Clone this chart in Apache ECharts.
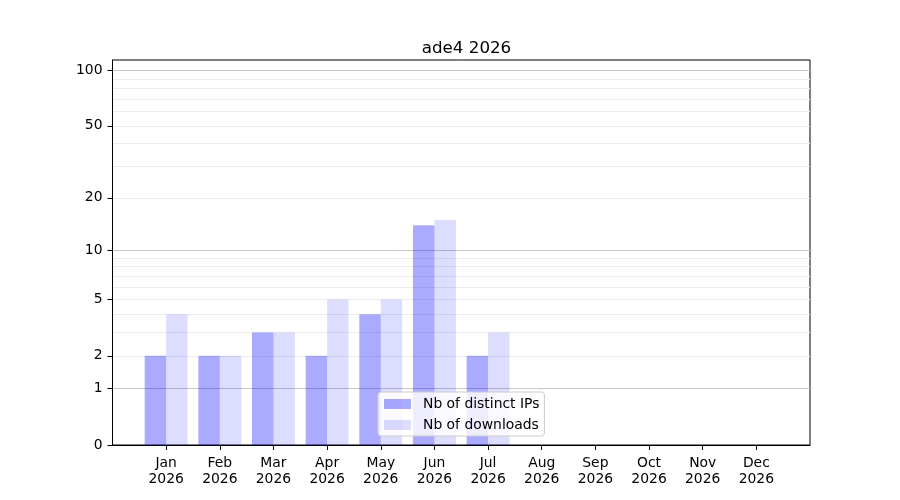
<!DOCTYPE html>
<html>
	<head>
		<meta charset="utf-8">
		<title>ade4 2026</title>
		<script src="https://cdn.jsdelivr.net/npm/echarts@6/dist/echarts.min.js"></script>
		<style>
			html, body { margin: 0; padding: 0; background: #fff; }
		</style>
	</head>
	<body>
		<div id="main" style="width: 900px;height:500px;"></div>

		<script type="text/javascript">
			// data
			var months = ['Jan', 'Feb', 'Mar', 'Apr', 'May', 'Jun', 'Jul', 'Aug', 'Sep', 'Oct', 'Nov', 'Dec'];
			var year = '2026';
			var distinctIps = [2, 2, 3, 2, 4, 14, 2, 0, 0, 0, 0, 0];
			var downloads = [4, 2, 3, 5, 5, 15, 3, 0, 0, 0, 0, 0];
			var yTickValues = [0, 1, 2, 5, 10, 20, 50, 100];
			var majorGrid = [1, 10, 100];
			var minorGrid = [2, 3, 4, 5, 6, 7, 8, 9, 20, 30, 40, 50, 60, 70, 80, 90];
			var yTop = 113.7;

			// the y axis is log10(1 + x)
			function tr(v) { return Math.log10(1 + v); }
			function untr(v) { return Math.round(Math.pow(10, v) - 1); }

			// one empty slot on each side, like the original x range (-1 .. 12)
			var categories = [''].concat(months.map(function (m) { return m + '\n' + year; }), ['']);
			function pad(arr) { return [null].concat(arr.map(tr), [null]); }

			var font = 'DejaVu Sans';
			var yMax = tr(yTop);

			function gridAxis(values, color) {
				return {
					type: 'value', min: 0, max: yMax, position: 'left',
					axisLine: { show: false },
					axisLabel: { show: false },
					axisTick: { show: false, customValues: values.map(tr) },
					splitLine: { show: true, lineStyle: { color: color, width: 1 } }
				};
			}

			var myChart = echarts.init(document.getElementById('main'));
			var option = {
				animation: false,
				textStyle: { fontFamily: font },
				title: {
					text: 'ade4 ' + year,
					left: 461.5,
					top: 35,
					textAlign: 'center',
					textStyle: { fontFamily: font, fontSize: 16.7, fontWeight: 'normal', color: '#000' }
				},
				legend: {
					orient: 'vertical',
					left: 378,
					top: 392,
					padding: [5, 5, 4, 6],
					itemWidth: 27,
					itemHeight: 10,
					itemGap: 7,
					backgroundColor: 'rgba(255,255,255,0.8)',
					borderColor: '#cccccc',
					borderWidth: 1,
					borderRadius: 3,
					icon: 'rect',
					textStyle: { fontFamily: font, fontSize: 13.9, color: '#000', padding: [0, 0, 0, 7] },
					data: ['Nb of distinct IPs', 'Nb of downloads']
				},
				grid: {
					left: 112.5, right: 90, top: 60, bottom: 55,
					show: true, borderColor: '#000', borderWidth: 1,
					containLabel: false
				},
				xAxis: {
					type: 'category',
					data: categories,
					boundaryGap: false,
					axisLine: { lineStyle: { color: '#000' } },
					axisTick: {
						length: 5, lineStyle: { color: '#000' },
						interval: function (i) { return i > 0 && i < categories.length - 1; }
					},
					axisLabel: {
						interval: 0, margin: 10, color: '#000',
						fontFamily: font, fontSize: 13.9, lineHeight: 16
					},
					splitLine: { show: false }
				},
				yAxis: [
					{
						type: 'value', min: 0, max: yMax, position: 'left',
						axisLine: { show: true, lineStyle: { color: '#000' } },
						axisTick: { show: true, length: 5, lineStyle: { color: '#000' }, customValues: yTickValues.map(tr) },
						axisLabel: {
							customValues: yTickValues.map(tr), margin: 10, color: '#000',
							fontFamily: font, fontSize: 13.9,
							formatter: function (v) { return String(untr(v)); }
						},
						splitLine: { show: false }
					},
					gridAxis(majorGrid, '#c8c8c8'),
					gridAxis(minorGrid, '#ececec')
				],
				series: [
					{
						name: 'Nb of distinct IPs',
						type: 'bar',
						data: pad(distinctIps),
						barWidth: '40%',
						barGap: '0%',
						itemStyle: { color: 'rgba(0,0,255,0.333)' }
					},
					{
						name: 'Nb of downloads',
						type: 'bar',
						data: pad(downloads),
						barWidth: '40%',
						barGap: '0%',
						itemStyle: { color: 'rgba(0,0,255,0.133)' }
					}
				]
			};

			myChart.setOption(option);
		</script>
	</body>
</html>
